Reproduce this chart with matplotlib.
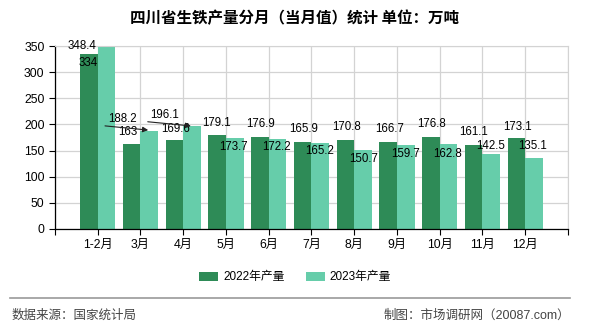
import matplotlib

matplotlib.use("Agg")
import matplotlib.pyplot as plt
import numpy as np

plt.rcParams["font.family"] = ["Liberation Sans", "Noto Sans CJK SC", "DejaVu Sans"]

# data
months = ["1-2月", "3月", "4月", "5月", "6月", "7月", "8月", "9月", "10月", "11月", "12月"]
output_2022 = [334, 163, 169.6, 179.1, 176.9, 165.9, 170.8, 166.7, 176.8, 161.1, 173.1]
output_2023 = [348.4, 188.2, 196.1, 173.7, 172.2, 165.2, 150.7, 159.7, 162.8, 142.5, 135.1]

# label offsets (data units) relative to (category index, value)
offs_2022 = [(-0.23, -16.5), (-0.29, 22.5), (-0.19, 21.4), (-0.23, 23.6), (-0.2, 24),
             (-0.19, 25), (-0.19, 24), (-0.18, 24), (-0.2, 24), (-0.22, 24.4), (-0.19, 22)]
offs_2023 = [(-0.37, 1.6), (-0.43, 22), (-0.43, 22), (0.17, -17), (0.19, -15.4),
             (0.2, -16), (0.21, -17), (0.21, -17), (0.19, -20), (0.2, 16.5), (0.18, 24)]
arrow_idx = [1, 2]

C22 = "#2e8b57"
C23 = "#66cdaa"

fig = plt.figure(figsize=(5.9, 3.3), dpi=100)
ax = fig.add_axes([0.0932, 0.3061, 0.8695, 0.5545])

x = np.arange(len(months))
w = 0.41
ax.bar(x - w / 2, output_2022, w, color=C22, label="2022年产量", zorder=2)
ax.bar(x + w / 2, output_2023, w, color=C23, label="2023年产量", zorder=2)

for i, v in enumerate(output_2022):
    dx, dy = offs_2022[i]
    ax.text(i + dx, v + dy, f"{v:g}", ha="center", va="center", fontsize=8.3, zorder=4)

for i, v in enumerate(output_2023):
    dx, dy = offs_2023[i]
    tx, ty = i + dx, v + dy
    ax.text(tx, ty, f"{v:g}", ha="center", va="center", fontsize=8.3, zorder=4)
    if i in arrow_idx:
        ax.annotate("", xy=(i + 0.18, v + 1), xytext=(tx - 0.4, ty - 13),
                    arrowprops=dict(arrowstyle="-|>", color="#222222", lw=0.8,
                                    mutation_scale=8, shrinkA=0, shrinkB=0),
                    zorder=5)

ax.set_xlim(-1, 11)
ax.set_ylim(0, 350)
ax.set_yticks(range(0, 351, 50))
ax.set_xticks(range(-1, 12))
ax.set_xticklabels([""] + months + [""])
ax.tick_params(axis="both", labelsize=8.8, length=4, width=0.8, color="black")
ax.tick_params(axis="x", pad=3)

ax.grid(True, color="#d3d3d3", lw=0.9, zorder=0)
ax.set_axisbelow(True)
for s in ["top", "right"]:
    ax.spines[s].set_color("#d3d3d3")
for s in ["left", "bottom"]:
    ax.spines[s].set_color("black")
    ax.spines[s].set_linewidth(0.9)

fig.text(0.5, 0.945, "四川省生铁产量分月（当月值）统计 单位：万吨", ha="center", va="center",
         fontsize=11.2, fontweight="bold", family=["Noto Sans CJK SC", "DejaVu Sans"])

fig.legend(loc="center", bbox_to_anchor=(0.5, 0.16), ncol=2, frameon=False, fontsize=8.5,
           handlelength=1.6, handleheight=0.8, columnspacing=1.8, handletextpad=0.4)

fig.add_artist(plt.Line2D([10 / 590, 570 / 590], [1 - 298 / 330, 1 - 298 / 330],
                          color="#999999", lw=1.2))
fig.text(12 / 590, 1 - 316 / 330, "数据来源：国家统计局", ha="left", va="center",
         fontsize=9, color="#444444")
fig.text(570 / 590, 1 - 316 / 330, "制图：市场调研网（20087.com）", ha="right", va="center",
         fontsize=9, color="#444444")

fig.savefig("out.png", dpi=100)
